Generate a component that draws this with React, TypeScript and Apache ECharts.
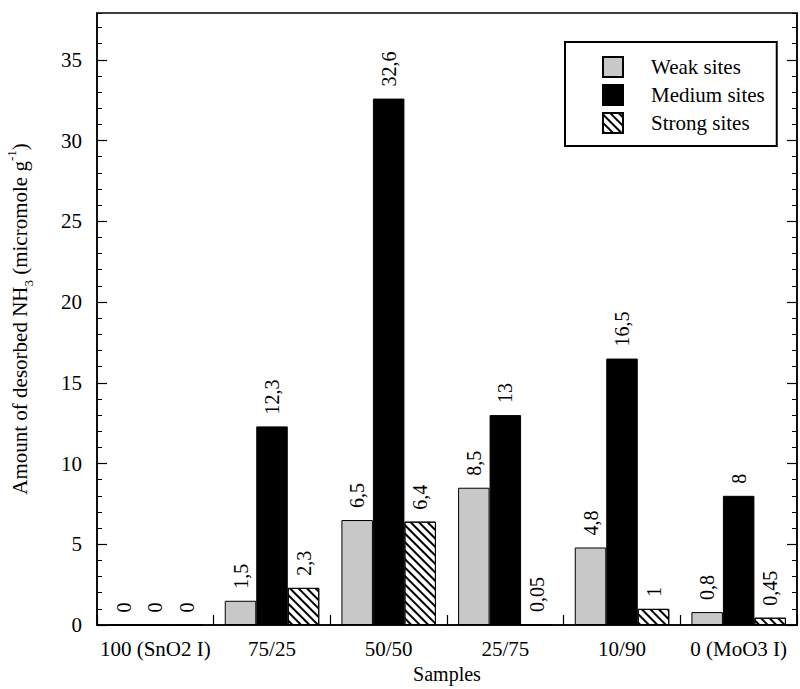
import React, { useEffect, useRef } from 'react';
import * as echarts from 'echarts';

const categories = ['100 (SnO2 I)', '75/25', '50/50', '25/75', '10/90', '0 (MoO3 I)'];
const weakSites = [0, 1.5, 6.5, 8.5, 4.8, 0.8];
const mediumSites = [0, 12.3, 32.6, 13, 16.5, 8];
const strongSites = [0, 2.3, 6.4, 0.05, 1, 0.45];
const majorTicks = [0, 5, 10, 15, 20, 25, 30, 35];
const yMin = 0;
const yMax = 37.9;

const FONT = "'Liberation Serif', 'Times New Roman', serif";

export default function App() {
  const ref = useRef<HTMLDivElement>(null);
  useEffect(() => {
    document.body.style.margin = '0';
    if (!ref.current) return;
    const chart = echarts.init(ref.current, undefined, { renderer: 'svg' });
    const labelCfg = {
      show: true,
      position: 'top',
      rotate: 90,
      align: 'left',
      verticalAlign: 'middle',
      distance: 12,
      fontSize: 20,
      fontFamily: FONT,
      color: '#000',
      formatter: (p: any) => String(p.value).replace('.', ','),
    };
    const axisLineStyle = { color: '#000', width: 1.5 };
    const majorAxis = (pos: 'left' | 'right', showLabel: boolean) => ({
      type: 'value',
      position: pos,
      min: yMin,
      max: yMax,
      interval: 5,
      axisLine: { show: true, lineStyle: axisLineStyle },
      axisTick: { show: true, inside: true, length: 10, customValues: majorTicks, lineStyle: { color: '#000', width: 1.2 } },
      axisLabel: {
        show: showLabel,
        customValues: majorTicks,
        fontSize: 21,
        fontFamily: FONT,
        color: '#000',
        margin: 15,
      },
      splitLine: { show: false },
    });
    const minorAxis = (pos: 'left' | 'right') => ({
      type: 'value',
      position: pos,
      min: yMin,
      max: yMax,
      interval: 1,
      axisLine: { show: false },
      axisTick: { show: true, inside: true, length: 5, lineStyle: { color: '#000', width: 1 } },
      axisLabel: { show: false },
      splitLine: { show: false },
    });
    chart.setOption({
      animation: false,
      backgroundColor: '#fff',
      textStyle: { fontFamily: FONT },
      grid: {
        left: 97,
        right: 3,
        top: 13,
        bottom: 64,
        outerBoundsMode: 'none',
        containLabel: false,
        show: true,
        borderColor: '#000',
        borderWidth: 1.5,
        backgroundColor: 'transparent',
      },
      legend: {
        orient: 'vertical',
        left: 565,
        top: 42,
        itemWidth: 20,
        itemHeight: 20,
        itemGap: 6,
        padding: [14, 12, 12, 37],
        borderColor: '#000',
        borderWidth: 2,
        icon: 'rect',
        textStyle: { fontSize: 21, fontFamily: FONT, color: '#000', padding: [0, 0, 0, 23] },
        data: ['Weak sites', 'Medium sites', 'Strong sites'],
      },
      xAxis: {
        type: 'category',
        data: categories,
        axisLine: { show: true, lineStyle: axisLineStyle },
        axisTick: { show: true, inside: true, length: 10, lineStyle: { color: '#000', width: 1.2 } },
        axisLabel: { interval: 0, fontSize: 21, fontFamily: FONT, color: '#000', margin: 13 },
        name: 'Samples',
        nameLocation: 'middle',
        nameGap: 39,
        nameTextStyle: { fontSize: 20, fontFamily: FONT, color: '#000' },
      },
      yAxis: [
        {
          ...majorAxis('left', true),
          name: 'Amount of desorbed NH{sub|3} (micromole g{sup|-1})',
          nameLocation: 'middle',
          nameGap: 62,
          nameTextStyle: {
            fontSize: 21,
            fontFamily: FONT,
            color: '#000',
            lineHeight: 30,
            rich: {
              sub: { fontSize: 13, fontFamily: FONT, color: '#000', verticalAlign: 'bottom', lineHeight: 13 },
              sup: { fontSize: 13, fontFamily: FONT, color: '#000', verticalAlign: 'top', lineHeight: 13 },
            },
          },
        },
        minorAxis('left'),
        majorAxis('right', false),
        minorAxis('right'),
      ],
      series: [
        {
          name: 'Weak sites',
          type: 'bar',
          yAxisIndex: 0,
          data: weakSites,
          barGap: '0%',
          barCategoryGap: '19%',
          itemStyle: { color: '#c8c8c8', borderColor: '#000', borderWidth: 1 },
          label: labelCfg,
        },
        {
          name: 'Medium sites',
          type: 'bar',
          yAxisIndex: 0,
          data: mediumSites,
          barGap: '0%',
          barCategoryGap: '19%',
          itemStyle: { color: '#000', borderColor: '#000', borderWidth: 1 },
          label: labelCfg,
        },
        {
          name: 'Strong sites',
          type: 'bar',
          yAxisIndex: 0,
          data: strongSites,
          barGap: '0%',
          barCategoryGap: '19%',
          itemStyle: {
            color: '#fff',
            borderColor: '#000',
            borderWidth: 1,
            decal: {
              symbol: 'rect',
              symbolSize: 1,
              dashArrayX: [1, 0],
              dashArrayY: [2, 4],
              rotation: Math.PI / 4,
              color: '#000',
            },
          },
          label: labelCfg,
        },
      ],
    });
    return () => chart.dispose();
  }, []);
  return <div ref={ref} style={{ width: 800, height: 689 }} />;
}
